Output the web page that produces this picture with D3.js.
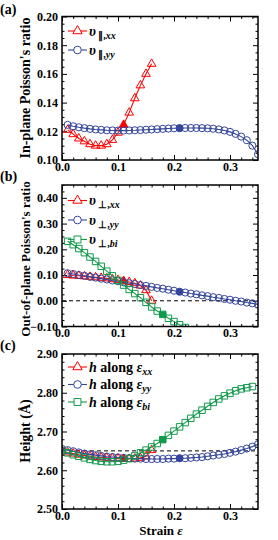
<!DOCTYPE html>
<html lang="en">
<head>
<meta charset="UTF-8">
<title>Poisson's ratio and height vs strain</title>
<script src="https://d3js.org/d3.v7.min.js"></script>
<style>
  body { margin: 0; background: #fff; }
  text { font-family: "Liberation Serif", "Times New Roman", serif; font-weight: bold; fill: #000; }
</style>
</head>
<body>
<div id="chart"></div>
<script>
const width = 278, height = 540;
const xLeft = 62, xRight = 258;

// strain grids
const strain01to16 = [0.01,0.02,0.03,0.04,0.05,0.06,0.07,0.08,0.09,0.10,0.11,0.12,0.13,0.14,0.15,0.16];
const strain01to22 = [0.01,0.02,0.03,0.04,0.05,0.06,0.07,0.08,0.09,0.10,0.11,0.12,0.13,0.14,0.15,0.16,0.17,0.18,0.19,0.20,0.21,0.22];
const strain01to35 = [0.01,0.02,0.03,0.04,0.05,0.06,0.07,0.08,0.09,0.10,0.11,0.12,0.13,0.14,0.15,0.16,0.17,0.18,0.19,0.20,0.21,0.22,0.23,0.24,0.25,0.26,0.27,0.28,0.29,0.30,0.31,0.32,0.33,0.34,0.35];
const strain00to16 = [0.00,0.01,0.02,0.03,0.04,0.05,0.06,0.07,0.08,0.09,0.10,0.11,0.12,0.13,0.14,0.15,0.16];
const strain00to34 = [0.00,0.01,0.02,0.03,0.04,0.05,0.06,0.07,0.08,0.09,0.10,0.11,0.12,0.13,0.14,0.15,0.16,0.17,0.18,0.19,0.20,0.21,0.22,0.23,0.24,0.25,0.26,0.27,0.28,0.29,0.30,0.31,0.32,0.33,0.34];
const strain00to35 = [0.00,0.01,0.02,0.03,0.04,0.05,0.06,0.07,0.08,0.09,0.10,0.11,0.12,0.13,0.14,0.15,0.16,0.17,0.18,0.19,0.20,0.21,0.22,0.23,0.24,0.25,0.26,0.27,0.28,0.29,0.30,0.31,0.32,0.33,0.34,0.35];

// (a) in-plane Poisson's ratio
const inPlaneXX = [0.121,0.118,0.115,0.113,0.111,0.110,0.110,0.111,0.114,0.119,0.1245,0.133,0.143,0.152,0.160,0.167];
const inPlaneYY = [0.1245,0.1235,0.1228,0.1222,0.1217,0.1213,0.1210,0.1207,0.1206,0.1205,0.1205,0.1206,0.1207,0.1209,0.1211,0.1213,0.1215,0.1217,0.1219,0.1221,0.1222,0.1223,0.1223,0.1223,0.1222,0.1221,0.1218,0.1213,0.1206,0.1196,0.1182,0.1163,0.1138,0.1100,0.1040];

// (b) out-of-plane Poisson's ratio
const outPlaneXX = [0.100,0.098,0.097,0.095,0.093,0.091,0.089,0.087,0.084,0.081,0.077,0.073,0.068,0.059,0.041,0.000];
const outPlaneYY = [0.107,0.104,0.100,0.097,0.093,0.090,0.086,0.083,0.079,0.076,0.072,0.068,0.065,0.061,0.058,0.054,0.050,0.047,0.043,0.039,0.035,0.032,0.028,0.025,0.021,0.018,0.014,0.011,0.007,0.004,0.000,-0.003,-0.007,-0.010,-0.014];
const outPlaneBI = [0.231,0.218,0.203,0.187,0.170,0.153,0.134,0.115,0.097,0.079,0.061,0.044,0.028,0.012,-0.006,-0.024,-0.040,-0.053,-0.068,-0.081,-0.093,-0.104];

// (c) height (Å)
const heightXX = [2.650,2.646,2.643,2.640,2.638,2.636,2.634,2.633,2.632,2.631,2.630,2.629,2.629,2.630,2.632,2.636,2.652];
const heightYY = [2.655,2.652,2.649,2.646,2.643,2.641,2.639,2.637,2.635,2.634,2.633,2.632,2.631,2.630,2.630,2.629,2.629,2.629,2.629,2.630,2.630,2.631,2.631,2.632,2.633,2.634,2.636,2.638,2.640,2.642,2.645,2.648,2.652,2.656,2.661,2.667];
const heightBI = [2.650,2.645,2.640,2.636,2.632,2.628,2.625,2.623,2.622,2.622,2.623,2.626,2.630,2.637,2.645,2.652,2.660,2.669,2.679,2.690,2.701,2.712,2.723,2.734,2.745,2.755,2.765,2.775,2.784,2.792,2.799,2.805,2.810,2.813,2.816];

const xTickValues = [0.0, 0.1, 0.2, 0.3];
const xMinorTicks = [0.02,0.04,0.06,0.08,0.12,0.14,0.16,0.18,0.22,0.24,0.26,0.28,0.32,0.34];

const colors = { xx: "#ff0000", yy: "#34459c", bi: "#119a4c" };
const shapes = { xx: d3.symbolTriangle, yy: d3.symbolCircle, bi: d3.symbolSquare };
const sizes = { xx: 32, yy: 40, bi: 42 };
const filledAt = { xx: 0.11, yy: 0.21, bi: 0.18 };

const svg = d3.select("#chart").append("svg")
  .attr("width", width).attr("height", height);

const x = d3.scaleLinear().domain([0, 0.35]).range([xLeft, xRight]);

function drawPanel(p) {
  const y = d3.scaleLinear().domain(p.yDomain).range([p.bottom, p.top]);
  const g = svg.append("g");
  const clipId = "clip-" + p.id;
  g.append("clipPath").attr("id", clipId).append("rect")
    .attr("x", xLeft).attr("y", p.top).attr("width", xRight - xLeft).attr("height", p.bottom - p.top);

  // minor ticks
  const minorAxes = [
    [d3.axisBottom(x).tickValues(xMinorTicks), `translate(0,${p.bottom})`],
    [d3.axisTop(x).tickValues(xMinorTicks), `translate(0,${p.top})`],
    [d3.axisLeft(y).tickValues(p.yMinor), `translate(${xLeft},0)`],
    [d3.axisRight(y).tickValues(p.yMinor), `translate(${xRight},0)`]
  ];
  minorAxes.forEach(([ax, tr]) => {
    g.append("g").attr("transform", tr)
      .call(ax.tickSize(-2.5).tickFormat(""))
      .call(s => s.select(".domain").remove());
  });

  // major ticks
  g.append("g").attr("transform", `translate(0,${p.bottom})`)
    .call(d3.axisBottom(x).tickValues(xTickValues).tickSize(-5).tickPadding(2).tickFormat(d3.format(".1f")))
    .call(s => s.select(".domain").remove())
    .call(s => s.selectAll("text").style("font-size", "12px").attr("fill", "#000"));
  g.append("g").attr("transform", `translate(0,${p.top})`)
    .call(d3.axisTop(x).tickValues(xTickValues).tickSize(-5).tickFormat(""))
    .call(s => s.select(".domain").remove());
  g.append("g").attr("transform", `translate(${xLeft},0)`)
    .call(d3.axisLeft(y).tickValues(p.yTicks).tickSize(-5).tickPadding(4).tickFormat(d3.format(".2f")))
    .call(s => s.select(".domain").remove())
    .call(s => s.selectAll("text").style("font-size", "12px").attr("fill", "#000"));
  g.append("g").attr("transform", `translate(${xRight},0)`)
    .call(d3.axisRight(y).tickValues(p.yTicks).tickSize(-5).tickFormat(""))
    .call(s => s.select(".domain").remove());
  g.selectAll(".tick line").attr("stroke", "#000").attr("stroke-width", 1);

  // reference line
  if (p.refLine !== undefined) {
    g.append("line")
      .attr("x1", xLeft).attr("x2", xRight)
      .attr("y1", y(p.refLine)).attr("y2", y(p.refLine))
      .attr("stroke", "#000").attr("stroke-width", 1).attr("stroke-dasharray", "4,3");
  }

  // series
  const plot = g.append("g").attr("clip-path", `url(#${clipId})`);
  p.series.forEach(s => {
    const pts = s.xs.map((v, i) => ({ x: v, y: s.ys[i] }));
    plot.append("path").datum(pts)
      .attr("fill", "none").attr("stroke", colors[s.key]).attr("stroke-width", 1.1)
      .attr("d", d3.line().x(d => x(d.x)).y(d => y(d.y)));
    plot.selectAll(null).data(pts).enter().append("path")
      .attr("transform", d => `translate(${x(d.x)},${y(d.y)})`)
      .attr("d", d3.symbol().type(shapes[s.key]).size(sizes[s.key]))
      .attr("fill", d => Math.abs(d.x - filledAt[s.key]) < 1e-6 ? colors[s.key] : "none")
      .attr("stroke", colors[s.key]).attr("stroke-width", 1);
  });

  // frame
  g.append("rect")
    .attr("x", xLeft).attr("y", p.top).attr("width", xRight - xLeft).attr("height", p.bottom - p.top)
    .attr("fill", "none").attr("stroke", "#000").attr("stroke-width", 1.5);

  // legend
  p.series.forEach((s, i) => {
    const ly = p.legendTop + i * p.legendStep;
    g.append("line").attr("x1", 68).attr("x2", 87).attr("y1", ly).attr("y2", ly)
      .attr("stroke", colors[s.key]).attr("stroke-width", 1.1);
    g.append("path").attr("transform", `translate(77.5,${ly})`)
      .attr("d", d3.symbol().type(shapes[s.key]).size(sizes[s.key] + 6))
      .attr("fill", "#fff").attr("stroke", colors[s.key]).attr("stroke-width", 1);
    const t = g.append("text").attr("x", 89).attr("y", ly + 4.5).style("font-size", "14px");
    s.label(t);
  });

  // y label
  svg.append("text")
    .attr("transform", `translate(${p.yLabelX},${p.yLabelY}) rotate(-90)`)
    .attr("text-anchor", "middle").style("font-size", p.yLabelSize)
    .text(p.yLabel);

  // panel letter
  svg.append("text").attr("x", 0).attr("y", p.letterY).style("font-size", "14px").text(p.letter);
}

function nuLabel(sym, sub) {
  return t => {
    t.append("tspan").style("font-style", "italic").text("υ");
    t.append("tspan").attr("dy", 3).style("font-size", "10px").text(" " + sym + ",");
    t.append("tspan").style("font-size", "10px").style("font-style", "italic").text(sub);
  };
}
function hLabel(sub) {
  return t => {
    t.append("tspan").style("font-style", "italic").text("h");
    t.append("tspan").text(" along ");
    t.append("tspan").style("font-style", "italic").text("ε");
    t.append("tspan").attr("dy", 3).style("font-size", "10px").style("font-style", "italic").text(sub);
  };
}

drawPanel({
  id: "a", letter: "(a)", letterY: 14, top: 16.5, bottom: 160,
  yDomain: [0.10, 0.20], yTicks: [0.10, 0.12, 0.14, 0.16, 0.18, 0.20],
  yMinor: [0.105,0.11,0.115,0.125,0.13,0.135,0.145,0.15,0.155,0.165,0.17,0.175,0.185,0.19,0.195],
  yLabel: "In-plane Poisson's ratio", yLabelX: 30, yLabelY: 88, yLabelSize: "14px",
  legendTop: 31, legendStep: 19,
  series: [
    { key: "xx", xs: strain01to16, ys: inPlaneXX, label: nuLabel("∥", "xx") },
    { key: "yy", xs: strain01to35, ys: inPlaneYY, label: nuLabel("∥", "yy") }
  ]
});

drawPanel({
  id: "b", letter: "(b)", letterY: 181, top: 185, bottom: 326.5,
  yDomain: [-0.10, 0.45], yTicks: [-0.10, 0.00, 0.10, 0.20, 0.30, 0.40],
  yMinor: [-0.075,-0.05,-0.025,0.025,0.05,0.075,0.125,0.15,0.175,0.225,0.25,0.275,0.325,0.35,0.375,0.425,0.45],
  yLabel: "Out-of-plane Poisson's ratio", yLabelX: 30, yLabelY: 259, yLabelSize: "13px", refLine: 0,
  legendTop: 200.5, legendStep: 19.5,
  series: [
    { key: "xx", xs: strain01to16, ys: outPlaneXX, label: nuLabel("⊥", "xx") },
    { key: "yy", xs: strain01to35, ys: outPlaneYY, label: nuLabel("⊥", "yy") },
    { key: "bi", xs: strain01to22, ys: outPlaneBI, label: nuLabel("⊥", "bi") }
  ]
});

drawPanel({
  id: "c", letter: "(c)", letterY: 350, top: 354, bottom: 509,
  yDomain: [2.50, 2.90], yTicks: [2.50, 2.60, 2.70, 2.80, 2.90],
  yMinor: [2.52,2.54,2.56,2.58,2.62,2.64,2.66,2.68,2.72,2.74,2.76,2.78,2.82,2.84,2.86,2.88],
  yLabel: "Height (Å)", yLabelX: 30, yLabelY: 431, yLabelSize: "14px", refLine: 2.65,
  legendTop: 367, legendStep: 17.5,
  series: [
    { key: "xx", xs: strain00to16, ys: heightXX, label: hLabel("xx") },
    { key: "yy", xs: strain00to35, ys: heightYY, label: hLabel("yy") },
    { key: "bi", xs: strain00to34, ys: heightBI, label: hLabel("bi") }
  ]
});

// x axis title
const xt = svg.append("text").attr("x", 161).attr("y", 535).attr("text-anchor", "middle").style("font-size", "13px");
xt.append("tspan").text("Strain ");
xt.append("tspan").style("font-style", "italic").text("ε");
</script>
</body>
</html>
